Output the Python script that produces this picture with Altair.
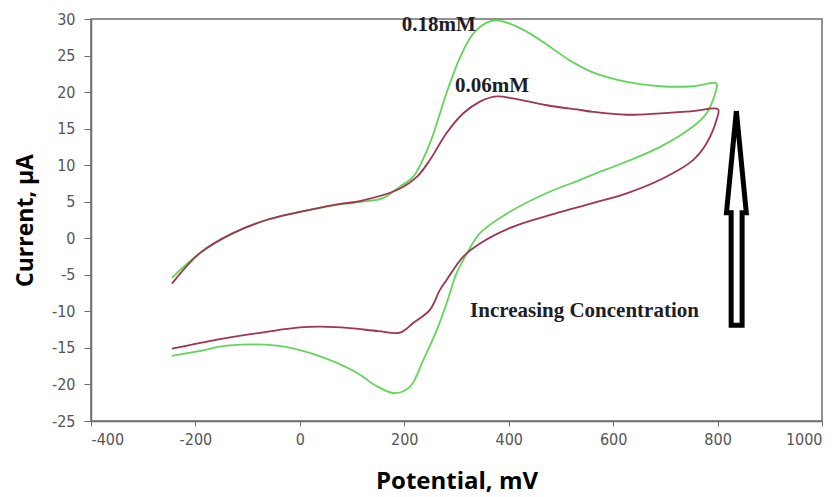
import altair as alt
import pandas as pd

# ---- data ----
# 0.18 mM (green): forward (upper) branch then reverse (lower) branch
g_fwd_x = [-245, -191, -128, -64, 0, 64, 120, 159, 192, 217, 249, 281, 307, 332, 358, 377, 408, 441, 485, 520, 561, 626, 690, 753, 798]
g_fwd_y = [-5.4, -2.0, 0.7, 2.5, 3.6, 4.5, 5.0, 5.5, 7.1, 8.4, 13.0, 19.9, 24.8, 28.0, 29.5, 29.8, 29.2, 28.0, 25.9, 24.2, 22.7, 21.4, 20.8, 20.8, 21.2]
g_rev_x = [798, 779, 753, 690, 626, 561, 537, 473, 409, 345, 320, 300, 281, 262, 236, 211, 182, 144, 109, 32, -44, -140, -190, -245]
g_rev_y = [20.5, 17.1, 15.3, 12.5, 10.5, 8.7, 8.0, 6.2, 3.9, 0.7, -2.1, -4.8, -8.9, -12.6, -16.7, -20.3, -21.2, -20.1, -18.4, -16.0, -14.7, -14.7, -15.4, -16.1]

# 0.06 mM (maroon)
r_fwd_x = [-245, -191, -128, -64, 0, 64, 121, 186, 224, 249, 281, 313, 345, 377, 408, 473, 537, 561, 626, 690, 753, 801]
r_fwd_y = [-6.2, -2.0, 0.7, 2.5, 3.6, 4.55, 5.2, 6.6, 8.4, 10.7, 14.4, 17.1, 18.7, 19.4, 19.15, 18.2, 17.55, 17.3, 16.9, 17.1, 17.4, 17.65]
r_rev_x = [798, 779, 753, 690, 626, 561, 490, 409, 345, 313, 281, 268, 249, 217, 192, 150, 96, 40, 0, -64, -128, -190, -245]
r_rev_y = [16.2, 13.0, 10.7, 8.0, 6.15, 4.8, 3.4, 1.6, -0.7, -2.5, -5.7, -7.1, -9.8, -11.6, -12.9, -12.7, -12.3, -12.1, -12.2, -12.8, -13.5, -14.3, -15.1]

series_names = ["0.06mM", "0.18mM"]
series_colors = ["#a03452", "#63d55a"]

# annotation texts (data coordinates)
label_text = ["0.18mM", "0.06mM", "Increasing Concentration"]
label_x = [195, 297, 326]
label_y = [28.3, 20.05, -10.8]

# outlined up-arrow (data coordinates)
arrow_x = [836, 855, 847, 847, 826, 826, 817, 836]
arrow_y = [17.4, 3.5, 3.5, -11.9, -11.9, 3.5, 3.5, 17.4]

x_ticks = [-400, -200, 0, 200, 400, 600, 800, 1000]
y_ticks = [-25, -20, -15, -10, -5, 0, 5, 10, 15, 20, 25, 30]

# ---- build tables ----
rows = []
def add(name, xs, ys, start):
    for i, (a, b) in enumerate(zip(xs, ys)):
        rows.append({"series": name, "x": a, "y": b, "order": start + i})

add("0.18mM", g_fwd_x, g_fwd_y, 0)
add("0.18mM", g_rev_x, g_rev_y, len(g_fwd_x))
add("0.06mM", r_fwd_x, r_fwd_y, 0)
add("0.06mM", r_rev_x, r_rev_y, len(r_fwd_x))
cv = pd.DataFrame(rows)

arrow = pd.DataFrame({"x": arrow_x, "y": arrow_y, "order": list(range(len(arrow_x)))})
labels = pd.DataFrame({"text": label_text, "x": label_x, "y": label_y})

xscale = alt.Scale(domain=[-400, 1000], nice=False, zero=False)
yscale = alt.Scale(domain=[-25, 30], nice=False, zero=False)

label_font = "DejaVu Sans Condensed, Liberation Sans Narrow, Liberation Sans"

xaxis = alt.Axis(values=x_ticks, labelExpr="datum.value + ''", title="Potential, mV", grid=False, tickSize=5,
                 labelFont=label_font, labelFontSize=16, labelColor="#555555", labelOverlap=False,
                 labelPadding=5, domainColor="#6e6e6e", tickColor="#6e6e6e", domainWidth=1.5,
                 titleFont="Open Sans", titleFontSize=24, titleFontWeight="bold", titleColor="#000000",
                 titleY=60, titleBaseline="middle")
yaxis = alt.Axis(values=y_ticks, labelExpr="datum.value + ''", title="Current, µA", grid=False, tickSize=7,
                 labelFont=label_font, labelFontSize=16, labelColor="#555555", labelOverlap=False,
                 labelPadding=9, domainColor="#6e6e6e", tickColor="#6e6e6e", domainWidth=1.5,
                 titleFont="Open Sans", titleFontSize=23, titleFontWeight="bold", titleColor="#000000",
                 titleX=-66, titleBaseline="middle")

X = alt.X("x:Q", scale=xscale, axis=xaxis)
Y = alt.Y("y:Q", scale=yscale, axis=yaxis)

lines = alt.Chart(cv).mark_line(strokeWidth=1.8, interpolate="catmull-rom").encode(
    x=X, y=Y,
    color=alt.Color("series:N", scale=alt.Scale(domain=series_names, range=series_colors), legend=None),
    order="order:Q",
)

arrow_mark = alt.Chart(arrow).mark_line(color="black", strokeWidth=5, strokeJoin="miter",
                                        strokeMiterLimit=20).encode(
    x=X, y=Y, order="order:Q",
)

texts = alt.Chart(labels).mark_text(font="Liberation Serif", fontWeight="bold", fontSize=21,
                                    align="left", baseline="alphabetic", color="#1e1e24").encode(
    x=X, y=Y, text="text:N",
)

chart = alt.layer(lines, arrow_mark, texts).properties(
    width=731, height=402,
    autosize=alt.AutoSizeParams(type="none"),
    padding={"left": 91, "top": 19, "right": 16, "bottom": 76},
    background="white",
).configure_view(stroke="#6e6e6e", strokeWidth=1.5)

chart.save("out.html", embed_options={"renderer": "svg", "actions": False})
